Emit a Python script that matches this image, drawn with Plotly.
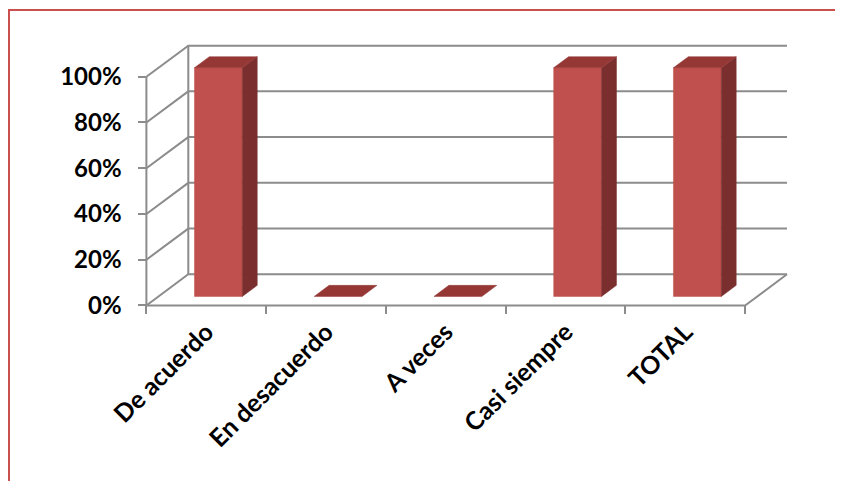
import plotly.graph_objects as go

# ---- data ----
categories = ["De acuerdo", "En desacuerdo", "A veces", "Casi siempre", "TOTAL"]
values = [1.0, 0.0, 0.0, 1.0, 1.0]
y_ticks = [0, 0.2, 0.4, 0.6, 0.8, 1.0]
y_tick_labels = ["0%", "20%", "40%", "60%", "80%", "100%"]

# ---- 3D look parameters (data units) ----
DX, DY = 0.35, 0.136      # depth offset of back wall
BAR_W = 0.4               # bar width (fraction of category)
D0, D1 = 0.29, 0.645      # bar front/back depth fraction

FRONT = "#C0504D"
SIDE = "#7A2F2E"
TOP = "#943735"
GRID = dict(color="#8C8C8C", width=2)

n = len(categories)
fig = go.Figure()


def poly(xs, ys, color):
    fig.add_trace(go.Scatter(
        x=xs + [xs[0]], y=ys + [ys[0]], mode="lines", fill="toself",
        fillcolor=color, line=dict(color=color, width=0.5),
        hoverinfo="skip", showlegend=False))


def line(xs, ys):
    fig.add_trace(go.Scatter(x=xs, y=ys, mode="lines", line=GRID,
                             hoverinfo="skip", showlegend=False))


# back wall gridlines + side wall diagonals
for t in y_ticks:
    line([0, DX, n + DX], [t, t + DY, t + DY])
# back left edge
line([DX, DX], [DY, y_ticks[-1] + DY])
# front left axis line
line([0, 0], [0, y_ticks[-1]])
# floor front and right edges
line([0, n, n + DX], [0, 0, DY])

# bars
ddx, ddy = (D1 - D0) * DX, (D1 - D0) * DY
for i, v in enumerate(values):
    xl = i + 0.5 - BAR_W / 2 + D0 * DX
    xr = xl + BAR_W
    yb = D0 * DY
    yt = yb + v
    if v > 0:
        poly([xl, xr, xr, xl], [yb, yb, yt, yt], FRONT)
        poly([xr, xr + ddx, xr + ddx, xr], [yb, yb + ddy, yt + ddy, yt], SIDE)
    poly([xl, xr, xr + ddx, xl + ddx], [yt, yt, yt + ddy, yt + ddy], TOP)

# ---- layout ----
OFF = 8                      # default page body margin
W, H = 843 - OFF, 481 - OFF
L, R, T, B = 136, 50, 23, 171
XR = [-0.02, 5.4]
YR = [-0.02, 1.2]
pw, ph = W - L - R, H - T - B

x_pos = (0 - YR[0]) / (YR[1] - YR[0])
y_pos = (0 - XR[0]) / (XR[1] - XR[0])

font_y = dict(family="Lato, Open Sans, sans-serif", size=24, color="#000000", weight="bold")
font_x = dict(family="Lato, Open Sans, sans-serif", size=25, color="#000000", weight="bold")

fig.update_layout(
    width=W, height=H,
    margin=dict(l=L, r=R, t=T, b=B),
    plot_bgcolor="white", paper_bgcolor="white",
    showlegend=False,
    xaxis=dict(
        range=XR, showgrid=False, zeroline=False, showline=False,
        tickvals=[i + 0.5 for i in range(n)], ticktext=categories,
        tickangle=-45, ticks="", tickfont=font_x,
        anchor="free", position=x_pos, ticklabelstandoff=6,
        minor=dict(tickvals=list(range(n + 1)), ticks="outside", ticklen=8,
                   tickcolor=GRID["color"], tickwidth=2),
    ),
    yaxis=dict(
        range=YR, showgrid=False, zeroline=False, showline=False,
        tickvals=y_ticks, ticktext=y_tick_labels,
        ticks="outside", ticklen=8, tickcolor=GRID["color"], tickwidth=2,
        tickfont=font_y, anchor="free", position=y_pos,
        ticklabelstandoff=12,
    ),
)


# red chart-area border (extends past right/bottom edges); coords in page px
def px_to_paper_x(px):
    return (px - OFF - L) / pw


def px_to_paper_y(py):
    return (H - B - (py - OFF)) / ph


fig.add_shape(type="rect", xref="paper", yref="paper",
              x0=px_to_paper_x(9), x1=px_to_paper_x(870),
              y0=px_to_paper_y(500), y1=px_to_paper_y(10),
              line=dict(color="#C9504D", width=2), fillcolor="rgba(0,0,0,0)",
              layer="above")

fig.write_html("out.html")
